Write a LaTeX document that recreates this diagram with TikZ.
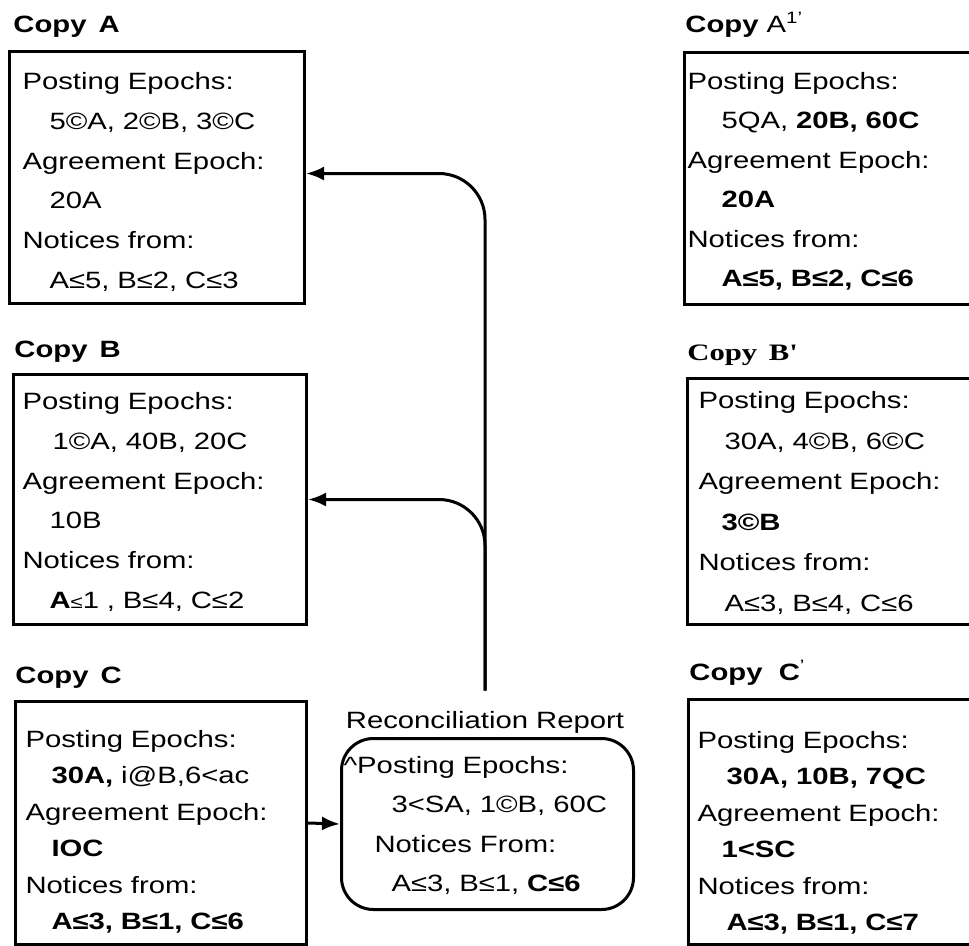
\documentclass[tikz,border=0pt]{standalone}
\usepackage{fontspec}
\setmainfont{Liberation Sans}[FakeStretch=1.24]
\newfontfamily\serifbold{Liberation Serif}[FakeStretch=1.3]
\usetikzlibrary{arrows.meta}
\newcommand{\epind}[1][13.5bp]{\hspace*{#1}}

\begin{document}
\begin{tikzpicture}[x=0.5bp, y=-0.5bp, >={Latex[length=9bp,width=7bp]},
    font=\fontsize{11.8bp}{19.9bp}\selectfont,
    epbox/.style={draw, line width=1.5bp, anchor=north west, align=left, inner ysep=0pt},
    copytitle/.style={anchor=base west, inner sep=0pt, font=\fontsize{11.8bp}{14bp}\selectfont\bfseries},
    link/.style={line width=1.5bp}]
  \useasboundingbox (0,0) rectangle (969,946);
  \clip (0,0) rectangle (969,946);
  % left column: copies before the report
  \node[copytitle] (titleA) at (13,32) {Copy\, A};
  \node[epbox, text width=134.5bp, inner xsep=6.5bp, text height=19bp, text depth=107bp] (copyA) at (8,50)
    {Posting Epochs:\\ \epind 5©A, 2©B, 3©C\\ Agreement Epoch:\\ \epind 20A\\ Notices from:\\ \epind A≤5, B≤2, C≤3};
  \node[copytitle] (titleB) at (14,357) {Copy\, B};
  \node[epbox, text width=137.5bp, inner xsep=4.5bp, text height=17.5bp, text depth=107.5bp] (copyB) at (12,373)
    {Posting Epochs:\\ \epind[15bp]1©A, 40B, 20C\\ Agreement Epoch:\\ \epind 10B\\ Notices from:\\ \epind\textbf{A}{\small≤}1 , B≤4, C≤2};
  \node[copytitle] (titleC) at (15,683) {Copy\, C};
  \node[epbox, font=\fontsize{11.8bp}{18.2bp}\selectfont, text width=135.5bp, inner xsep=5bp, text height=23bp, text depth=98.5bp] (copyC) at (14,700)
    {Posting Epochs:\\ \epind[13bp]\textbf{30A,} i@B,6<ac\\ Agreement Epoch:\\ \epind[13bp]\textbf{IOC}\\ Notices from:\\ \epind[13bp]\textbf{A≤3, B≤1, C≤6}};
  % right column: copies after the report
  \node[copytitle] (titleA1) at (685,32) {Copy \textmd{A\textsuperscript{1'}}};
  \node[epbox, font=\fontsize{11.8bp}{19.7bp}\selectfont, text width=157bp, inner xsep=1.5bp, text height=18.5bp, text depth=107.5bp] (copyA1) at (683,51)
    {Posting Epochs:\\ \epind[17bp]5QA, \textbf{20B, 60C}\\ Agreement Epoch:\\ \epind[17bp]\textbf{20A}\\ Notices from:\\ \epind[17bp]\textbf{A≤5, B≤2, C≤6}};
  \node[copytitle] (titleB1) at (687,360) {\serifbold Copy\, B'};
  \node[epbox, font=\fontsize{11.8bp}{20.3bp}\selectfont, text width=149bp, inner xsep=5.5bp, text height=15bp, text depth=108bp] (copyB1) at (686,377)
    {Posting Epochs:\\ \epind[13bp]30A, 4©B, 6©C\\ Agreement Epoch:\\ \epind[11.5bp]\textbf{3©B}\\ Notices from:\\ \epind[13bp]A≤3, B≤4, C≤6};
  \node[copytitle] (titleC1) at (689,680) {Copy\ \ C\textsuperscript{\textmd{'}}};
  \node[epbox, font=\fontsize{11.8bp}{18.2bp}\selectfont, text width=151bp, inner xsep=4.5bp, text height=24.5bp, text depth=98bp] (copyC1) at (687,698)
    {Posting Epochs:\\ \epind[14.5bp]\textbf{30A, 10B, 7QC}\\ Agreement Epoch:\\ \epind[12bp]\textbf{1<SC}\\ Notices from:\\ \epind[14.5bp]\textbf{A≤3, B≤1, C≤7}};
  % reconciliation report
  \node[anchor=base, inner sep=0pt] (rtitle) at (485,728) {Reconciliation Report};
  \node[epbox, rounded corners=16bp, font=\fontsize{11.8bp}{19.7bp}\selectfont, text width=144bp, inner xsep=1bp, text height=17.5bp, text depth=68bp] (recon) at (340,737)
    {\^{}Posting Epochs:\\ \epind[24bp]3<SA, 1©B, 60C\\ \epind[15.5bp]Notices From:\\ \epind[24bp]A≤3, B≤1, \textbf{C≤6}};
  % connectors
  \draw[link, ->, rounded corners=23bp, shorten <=10bp] (rtitle.north) |- ([yshift=2bp]copyA.east);
  \draw[link, ->, rounded corners=23bp, shorten <=10bp] (rtitle.north) |- (copyB.east);
  \draw[link, ->] (copyC.east) -- (recon.west);
\end{tikzpicture}
\end{document}
